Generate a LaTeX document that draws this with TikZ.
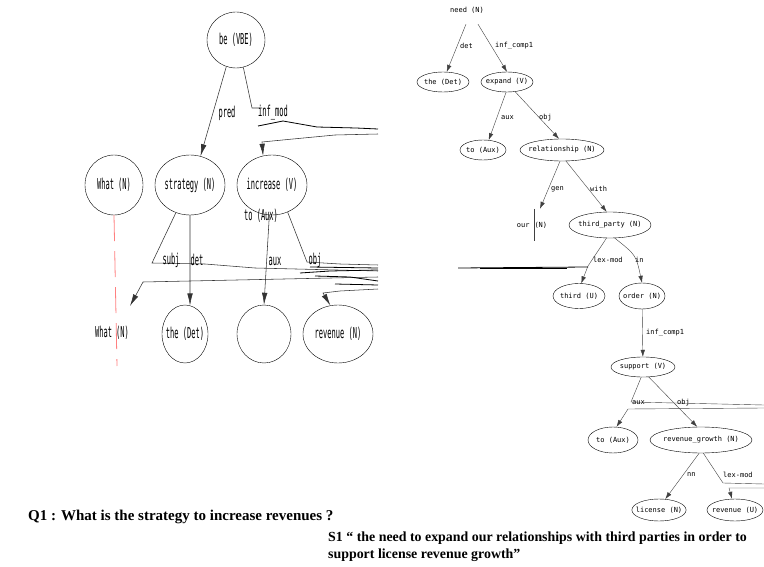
\documentclass[tikz,border=0pt]{standalone}
\usepackage{fontspec}
\setmainfont{Liberation Serif}
\newfontfamily\bigtree[FakeStretch=0.47]{DejaVu Sans Mono}
\newfontfamily\smalltree{DejaVu Sans Mono}
\usetikzlibrary{arrows.meta,positioning,shapes.geometric}
\begin{document}
\begin{tikzpicture}[x=1pt, y=-1pt, node distance=76pt]

% Define styles
\tikzstyle{bignode} = [draw, ellipse, inner sep=-6pt, minimum width=70pt, minimum height=60pt, font=\bigtree\fontsize{15}{16}\selectfont]
\tikzstyle{smallnode} = [draw, ellipse, inner sep=-4pt, minimum height=22pt, font=\smalltree\fontsize{7}{8}\selectfont]
\tikzstyle{biglabel} = [font=\bigtree\fontsize{15}{16}\selectfont, inner sep=1pt]
\tikzstyle{smalllabel} = [font=\smalltree\fontsize{7}{8}\selectfont, inner sep=1pt, anchor=west]
\tikzstyle{bigline} = [draw=black!80, line width=0.55pt]
\tikzstyle{bigarrow} = [bigline, -{Latex[length=12pt,width=5.5pt]}]
\tikzstyle{smallline} = [draw=black!75, line width=0.4pt]
\tikzstyle{smallarrow} = [smallline, -{Latex[length=7pt,width=4.5pt]}]
\tikzstyle{glitch} = [black, line width=0.8pt]

\useasboundingbox (0,0) rectangle (764,567);

% Left tree, top
\node[bignode, minimum width=58pt, minimum height=56pt] (be) at (236,40) {be (VBE)};

% Left tree, second row
\node[bignode, minimum width=58pt] (whatA) at (114,185) {What (N)};
\node[bignode, right of=whatA] (strategy) {strategy (N)};
\node[bignode, right of=strategy, node distance=82pt] (increase) {increase (V)};
\node[biglabel] (toAuxL) at (261,216) {to (Aux)};

% Left tree, third row
\node[biglabel] (whatB) at (112,333) {What (N)};
\node[bignode, minimum width=46pt, minimum height=58pt] (theL) at (185,334) {the (Det)};
\node[bignode, minimum width=54pt, minimum height=58pt, right of=theL, node distance=79pt] (auxL) {};
\node[bignode, minimum height=58pt, right of=auxL, node distance=74pt] (revenueL) {revenue (N)};

% Left tree, loose ends
\coordinate (infret) at (378,134);
\coordinate (subjret) at (378,277);
\coordinate (subjend) at (130,306);
\coordinate (revret) at (378,289);
\coordinate (whatend) at (117,366);

% Left tree, arrows
\draw[bigarrow] (be.250) -- (strategy.70);
\draw[bigline] (be.285) -- (252,108) -- (262,108);
\draw[bigarrow] (infret) -- (335,135) -- (293,139) -- (262,142) -- (increase.107);
\draw[bigline] (strategy.243) -- (152,263) -- (205,264) -- (255,268) -- (378,271);
\draw[bigarrow] (subjret) -- (143,282) -- (subjend);
\draw[bigarrow] (strategy.south) -- (theL.80);
\draw[bigarrow] (increase.265) -- (auxL.north);
\draw[bigline] (increase.300) -- (307,262) -- (340,264) -- (378,265);
\draw[bigarrow] (revret) -- (340,291) -- (323,293) -- (revenueL.105);
\draw[red!50, line width=0.8pt, dash pattern=on 26pt off 10pt] (whatA.south) -- (whatend);

% Left tree, stray lines
\draw[glitch] (258,126) -- (283,121) -- (317,127) -- (356,128) -- (378,129);
\draw[glitch] (310,267) -- (378,268);
\draw[glitch] (300,273) -- (330,271) -- (378,270);
\draw[glitch] (315,276) -- (350,277) -- (378,281);
\draw[glitch] (335,284) -- (378,285);

% Left tree, edge labels
\node[biglabel] (pred) at (227,113) {pred};
\node[biglabel] (infmod) at (273,113) {inf\_mod};
\node[biglabel] (subj) at (171,260) {subj};
\node[biglabel] (det) at (197,260) {det};
\node[biglabel] (auxlab) at (275,261) {aux};
\node[biglabel] (objlab) at (315,260) {obj};

% Right tree
\node[font=\smalltree\fontsize{7}{8}\selectfont, inner sep=0pt, minimum height=28pt] (need) at (467,10) {need (N)};
\node[smallnode, minimum width=52pt, minimum height=20pt] (theR) at (443,82) {the (Det)};
\node[smallnode, minimum width=52pt, minimum height=20pt, right of=theR, node distance=64pt] (expand) {expand (V)};
\node[smallnode, minimum width=46pt, minimum height=20pt] (toAuxR) at (483,150) {to (Aux)};
\node[smallnode, minimum width=84pt, right of=toAuxR, node distance=79pt] (relationship) {relationship (N)};
\node[font=\smalltree\fontsize{7}{8}\selectfont, inner sep=0pt, minimum height=32pt] (ourN) at (532,225) {our\hspace{5pt}(N)};
\node[smallnode, minimum width=82pt, minimum height=26pt] (thirdParty) at (610,225) {third\_party (N)};
\node[smallnode, minimum width=52pt, minimum height=25pt] (thirdU) at (579,296) {third (U)};
\node[smallnode, minimum width=46pt, minimum height=26pt, right of=thirdU, node distance=63pt] (order) {order (N)};
\node[smallnode, minimum width=64pt, minimum height=20pt] (support) at (643,367) {support (V)};
\node[smallnode, minimum width=50pt, minimum height=26pt] (toAuxS) at (613,440) {to (Aux)};
\node[smallnode, minimum width=102pt, minimum height=26pt, right of=toAuxS, node distance=88pt] (growth) {revenue\_growth (N)};
\node[smallnode, minimum width=50pt, minimum height=22pt] (license) at (659,510) {license (N)};
\node[smallnode, minimum width=56pt, minimum height=22pt, right of=license, node distance=76pt] (revenueU) {revenue (U)};

% Right tree, loose ends
\coordinate (auxret) at (764,408);
\coordinate (lexret) at (764,488);

% Right tree, arrows
\draw[smallarrow] ([xshift=-1pt]need.south) -- (theR.70);
\draw[smallarrow] ([xshift=11pt]need.south) -- (expand.north);
\draw[smallarrow] (expand.265) -- (toAuxR.60);
\draw[smallarrow] (expand.310) -- (relationship.105);
\draw[smallarrow] (relationship.260) -- ([xshift=8pt]ourN.north);
\draw[smallline] ([xshift=2pt]ourN.north) -- ([xshift=2pt]ourN.south);
\draw[smallarrow] (relationship.290) -- (thirdParty.104);
\draw[smallarrow] (thirdParty.255) -- (588,266) -- (thirdU.80);
\draw[smallarrow] (thirdParty.290) .. controls (636,255) .. (order.north);
\draw[smallarrow] (order) -- (support);
\draw[smallline] (support.260) -- (631,402) -- (764,405);
\draw[smallarrow] (auxret) -- (628,409) -- (toAuxS.75);
\draw[smallarrow] (support.300) -- (growth.106);
\draw[smallarrow] (growth.262) -- (license.60);
\draw[smallline] (growth.280) -- (723,483) -- (764,484);
\draw[smallarrow] (lexret) -- (729,488) -- (revenueU.105);

% Right tree, stray lines
\draw[glitch] (588,267) -- (458,268);
\draw[glitch, line width=1pt] (567,269) -- (480,269);

% Right tree, edge labels
\node[smalllabel] (detR) at (459,46) {det};
\node[smalllabel] (infcompA) at (494,46) {inf\_comp1};
\node[smalllabel] (auxR) at (500,118) {aux};
\node[smalllabel] (objR) at (538,118) {obj};
\node[smalllabel] (gen) at (550,189) {gen};
\node[smalllabel] (with) at (589,189) {with};
\node[smalllabel] (lexA) at (592,260) {lex-mod};
\node[smalllabel] (in) at (634,260) {in};
\node[smalllabel] (infcompB) at (645,333) {inf\_comp1};
\node[smalllabel] (auxS) at (631,403) {aux};
\node[smalllabel] (objS) at (676,403) {obj};
\node[smalllabel] (nn) at (686,475) {nn};
\node[smalllabel] (lexB) at (722,475) {lex-mod};

% Captions
\node[anchor=west, font=\bfseries\fontsize{15}{17}\selectfont, inner sep=0pt] (question) at (28,517) {Q1 : What is the strategy to increase revenues ?};
\node[anchor=north west, align=left, font=\bfseries\fontsize{13.9}{17}\selectfont, inner sep=0pt] (sentence) at (328,532) {S1 “ the need to expand our relationships with third parties in order to\\support license revenue growth”};

\end{tikzpicture}
\end{document}
